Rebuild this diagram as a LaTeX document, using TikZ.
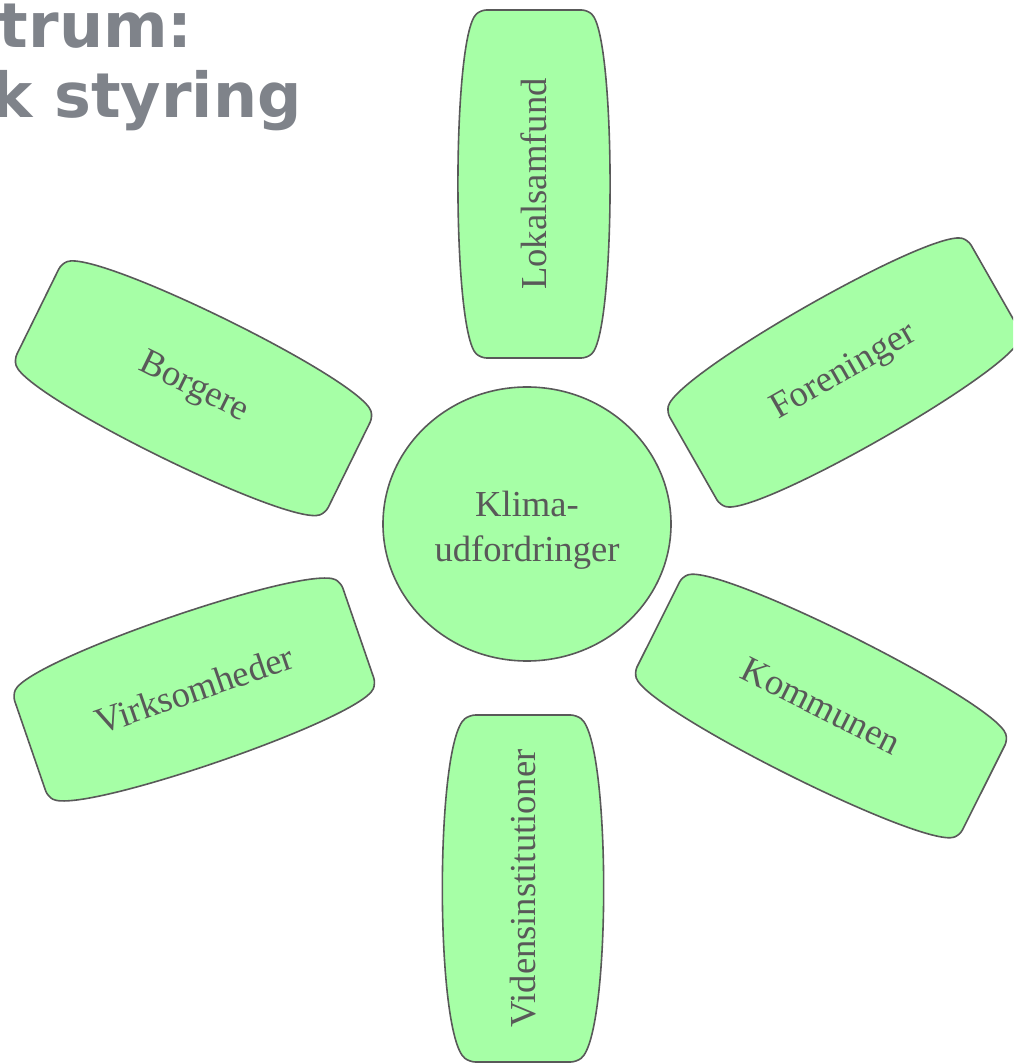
\documentclass[tikz,border=0pt]{standalone}
\usepackage{fontspec}
\setmainfont{Liberation Serif}
\newfontfamily\titelfont{DejaVu Sans}
\usepackage{tikz}
\usetikzlibrary{shapes.geometric,calc}

\definecolor{bladgroen}{RGB}{166,255,166}
\definecolor{kantgraa}{RGB}{89,89,89}
\definecolor{titelgraa}{RGB}{127,131,138}

% blad: navn, midte, vinkel, laengde, halv bredde, tekst
\newcommand{\blad}[6]{%
  \begin{scope}[shift={#2}, rotate=#3]
    \filldraw[bladkant, rounded corners=3pt]
      ({-#4/2},0) -- ({-#4/2},53.5)
      .. controls ({-#4/2+0.08*#4},{53.5+(#5-53.5)*4/3}) and ({#4/2-0.08*#4},{53.5+(#5-53.5)*4/3}) .. ({#4/2},53.5)
      -- ({#4/2},-53.5)
      .. controls ({#4/2-0.08*#4},{-53.5-(#5-53.5)*4/3}) and ({-#4/2+0.08*#4},{-53.5-(#5-53.5)*4/3}) .. ({-#4/2},-53.5)
      -- cycle;
  \end{scope}
  \node[bladtekst, rotate=#3] (#1) at #2 {#6};
}

\begin{document}
\begin{tikzpicture}[x=0.5pt,y=0.5pt,
    bladkant/.style={draw=kantgraa, fill=bladgroen, line width=0.8pt},
    bladtekst/.style={text=kantgraa, font=\fontsize{18.3}{22.5}\selectfont, inner sep=0pt},
    titel/.style={text=titelgraa, font=\titelfont\bfseries\fontsize{31}{35}\selectfont, inner sep=0pt, anchor=base east}]
  \useasboundingbox (-527,-539) rectangle (486,524);
  \clip (-527,-539) rectangle (486,524);

  %% titlen er skaaret af i venstre side
  \node[titel] (titel1) at (-334,476) {trum:};
  \node[titel] (titel2) at (-225,406) {k styring};

  \blad{lokalsamfund}{(7,340)}{90}{348}{75}{Lokalsamfund}
  \blad{foreninger}{(317,151.5)}{29.7}{347}{75}{Foreninger}
  \blad{kommunen}{(294,-182)}{-26.6}{364}{75}{Kommunen}
  \blad{viden}{(-4,-364.5)}{90}{347}{79.5}{Vidensinstitutioner}
  \blad{virksomheder}{(-332.75,-165.5)}{19}{347}{75}{Virksomheder}
  \blad{borgere}{(-333.5,135.75)}{-26.2}{347}{75}{Borgere}

  \node[bladkant, ellipse, minimum width=144pt, minimum height=137pt,
        inner sep=0pt] (klima) at (0,0) {};
  \node[bladtekst, align=center] (klimatekst) at (0,-6) {Klima-\\udfordringer};
\end{tikzpicture}
\end{document}
